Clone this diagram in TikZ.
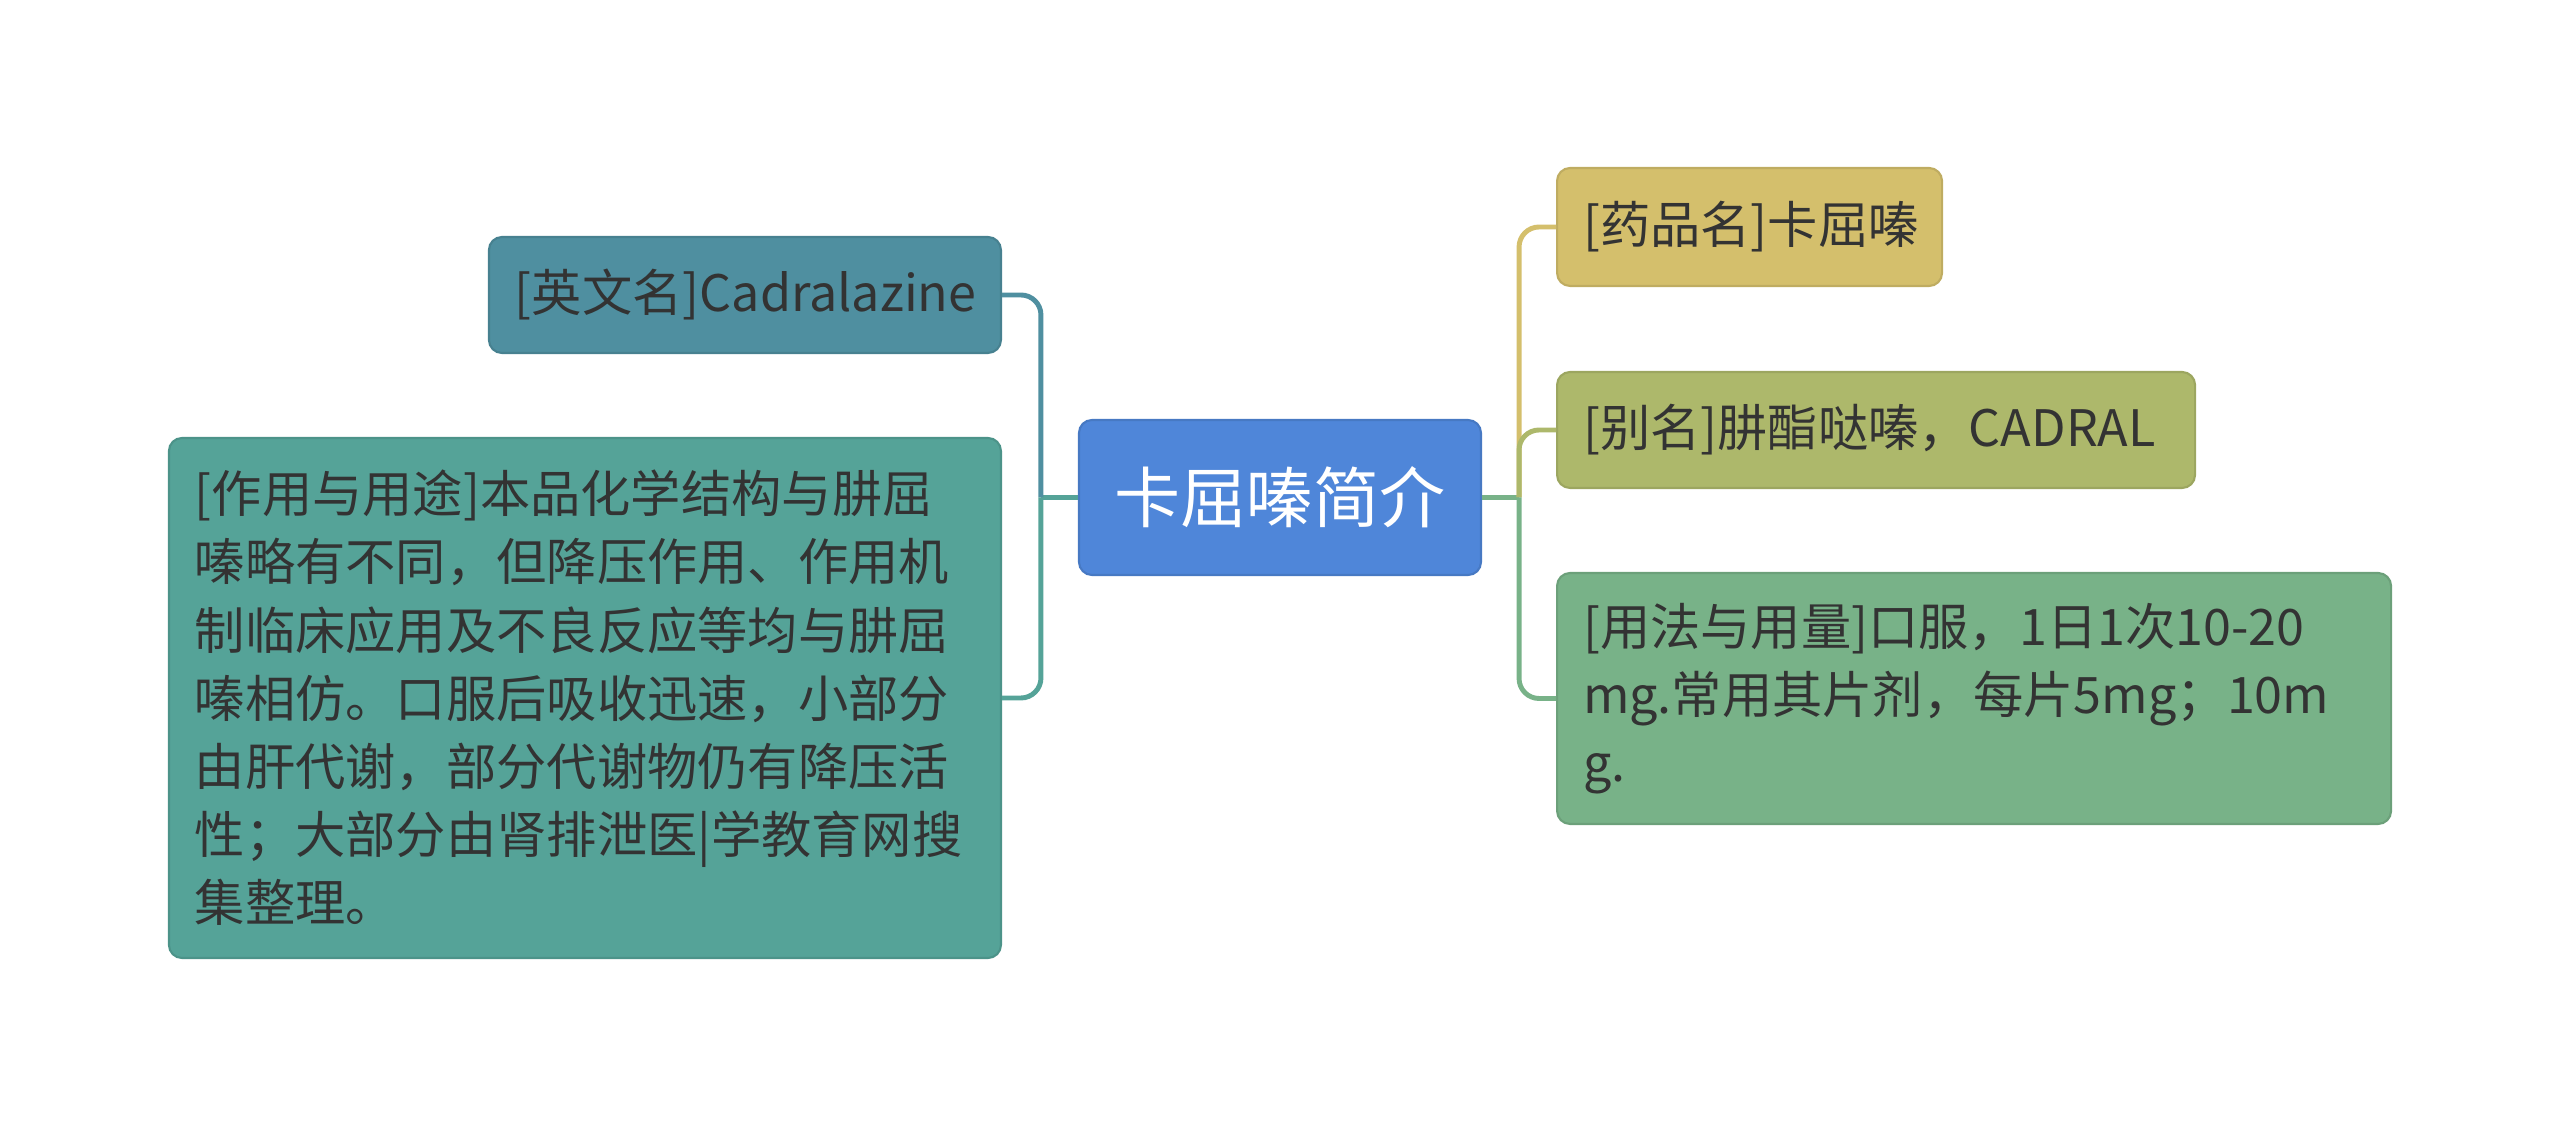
\documentclass[tikz,border=0pt]{standalone}
\usepackage{fontspec}
\setmainfont{Noto Sans CJK SC}

\definecolor{rootc}{HTML}{4F86D9}
\definecolor{engc}{HTML}{4F8FA0}
\definecolor{usec}{HTML}{55A398}
\definecolor{drugc}{HTML}{D4BF6C}
\definecolor{aliasc}{HTML}{ADB86B}
\definecolor{dosec}{HTML}{78B288}
\definecolor{textc}{HTML}{333333}

\tikzset{
  box/.style={rounded corners=0.13cm, align=left, text=textc, line width=0.6pt,
    inner xsep=0.26cm, inner ysep=0pt, font=\fontsize{14.3}{19.4}\selectfont},
  root/.style={rounded corners=0.13cm, align=center, text=white, fill=rootc,
    draw=rootc!90!black, line width=0.6pt, inner sep=0pt,
    minimum width=4.02cm, minimum height=1.55cm, font=\fontsize{18.8}{22}\selectfont},
  link/.style={line width=1.4pt, rounded corners=0.2cm},
}

\begin{document}
\begin{tikzpicture}

\useasboundingbox (0,0) rectangle (25.6,11.29);

% central topic
\node[root] (root) at (12.80,6.315) {卡屈嗪简介};

% left branches
\node[box, fill=engc, draw=engc!90!black, anchor=east, text width=4.6cm,
  minimum height=1.16cm] (eng) at (10.02,8.34) {[英文名]Cadralazine};

\node[box, fill=usec, draw=usec!90!black, anchor=east, text width=7.8cm,
  minimum height=5.20cm] (use) at (10.02,4.31)
  {[作用与用途]本品化学结构与肼屈\\
   嗪略有不同，但降压作用、作用机\\
   制临床应用及不良反应等均与肼屈\\
   嗪相仿。口服后吸收迅速，小部分\\
   由肝代谢，部分代谢物仍有降压活\\
   性；大部分由肾排泄医|学教育网搜\\
   集整理。};

% right branches
\node[box, fill=drugc, draw=drugc!90!black, anchor=west, text width=3.33cm,
  minimum height=1.18cm] (drug) at (15.56,9.02) {[药品名]卡屈嗪};

\node[box, fill=aliasc, draw=aliasc!90!black, anchor=west, text width=5.86cm,
  minimum height=1.16cm] (alias) at (15.56,6.99) {[别名]肼酯哒嗪，CADRAL};

\node[box, fill=dosec, draw=dosec!90!black, anchor=west, text width=7.82cm,
  minimum height=2.51cm] (dose) at (15.56,4.305)
  {[用法与用量]口服，1日1次10-20\\
   mg.常用其片剂，每片5mg；10m\\
   g.};

% connectors on the left
\draw[link, usec] (root.west) -- ++(-0.37,0) coordinate (jl);
\draw[link, engc] (jl) |- (eng.east);
\draw[link, usec] (jl) |- (use.east);

% connectors on the right
\draw[link, dosec] (root.east) -- ++(0.37,0) coordinate (jr);
\foreach \n/\c in {drug/drugc, alias/aliasc, dose/dosec}
  \draw[link, \c] (jr) |- (\n.west);

\end{tikzpicture}
\end{document}
